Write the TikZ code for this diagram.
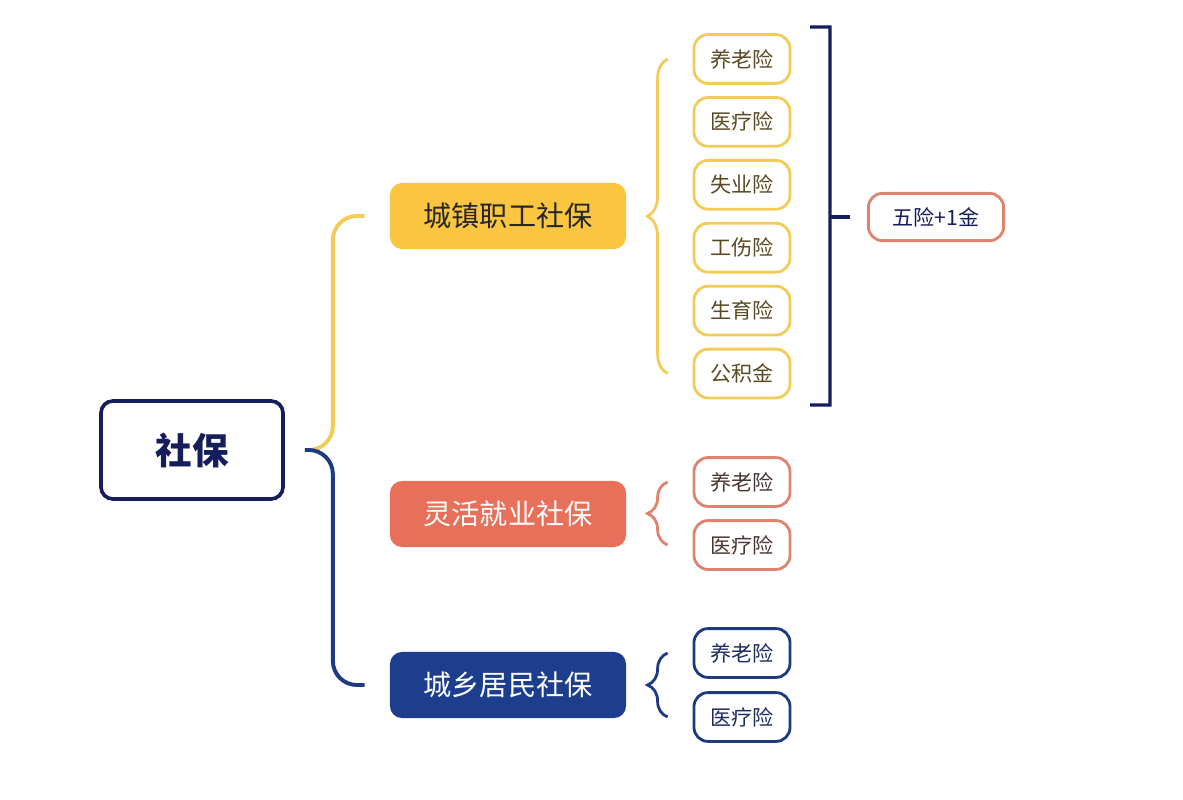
\documentclass[tikz,border=0pt]{standalone}
\usepackage{fontspec}
\setmainfont{Noto Sans CJK SC}
\usetikzlibrary{decorations.pathreplacing}
\definecolor{ink}{HTML}{161D5C}
\definecolor{gold}{HTML}{FAC540}
\definecolor{goldln}{HTML}{F3CC58}
\definecolor{olive}{HTML}{5A4A22}
\definecolor{coral}{HTML}{E86F5A}
\definecolor{coralln}{HTML}{DE8370}
\definecolor{rust}{HTML}{4A3530}
\definecolor{navy}{HTML}{1D3E8C}
\definecolor{navyln}{HTML}{1F3A80}
\definecolor{navytx}{HTML}{1C2A60}
\tikzset{
  rootbox/.style={draw=ink, line width=2.6pt, rounded corners=3mm, minimum width=4.55cm, minimum height=2.45cm, text=ink, font=\fontsize{26}{30}\selectfont\bfseries},
  grp/.style={rounded corners=3mm, minimum width=5.9cm, minimum height=1.65cm, font=\fontsize{20}{24}\selectfont},
  leaf/.style={draw, line width=2pt, rounded corners=3.5mm, minimum width=2.4cm, minimum height=1.22cm, font=\fontsize{15}{18}\selectfont},
  lnk/.style={line width=2.8pt, rounded corners=6mm},
  brc/.style={line width=2pt, decorate, decoration={brace, amplitude=5mm}},
  bkt/.style={draw=ink, line width=2.2pt}
}
\begin{document}
\begin{tikzpicture}[x=0.025cm, y=-0.025cm]
	\path[use as bounding box, fill=white] (0,0) rectangle (1183,800);
	% root and groups
	\node[rootbox] (root) at (192,450) {社保};
	\node[grp, fill=gold, text=black!85] (g1) at (508,216) {城镇职工社保};
	\node[grp, fill=coral, text=white] (g2) at (508,514) {灵活就业社保};
	\node[grp, fill=navy, text=white] (g3) at (508,685) {城乡居民社保};
	\draw[lnk, goldln] ([xshift=5mm]root.east) -- ++(28,0) |- ([xshift=-6.25mm]g1.west);
	\draw[lnk, navyln] ([xshift=5mm]root.east) -- ++(28,0) |- ([xshift=-6.25mm]g3.west);
	% urban workers
	\foreach \t [count=\i] in {养老险,医疗险,失业险,工伤险,生育险,公积金} {
		\node[leaf, draw=goldln, text=olive] (y\i) at (742,{59+62.9*(\i-1)}) {\t};
	}
	\draw[brc, goldln] ([xshift=-6.25mm]y6.west) -- ([xshift=-6.25mm]y1.west);
	\coordinate (bt) at (810,27);
	\coordinate (bb) at (810,405);
	\node[leaf, draw=coralln, text=ink, minimum width=3.38cm, minimum height=1.18cm] (five) at (936,217) {五险+1金};
	\draw[bkt] (bt) -- ++(20,0) -- ([xshift=5mm]bb) -- (bb);
	\draw[bkt] (five.west -| bt) ++(20,0) -- ([xshift=-4.25mm]five.west);
	% flexible
	\node[leaf, draw=coralln, text=rust] (c1) at (742,482) {养老险};
	\node[leaf, draw=coralln, text=rust] (c2) at (742,545) {医疗险};
	\draw[brc, coralln] ([xshift=-6.25mm]c2.west) -- ([xshift=-6.25mm]c1.west);
	% residents
	\node[leaf, draw=navyln, text=navytx] (n1) at (742,653) {养老险};
	\node[leaf, draw=navyln, text=navytx] (n2) at (742,717) {医疗险};
	\draw[brc, navyln] ([xshift=-6.25mm]n2.west) -- ([xshift=-6.25mm]n1.west);
\end{tikzpicture}
\end{document}
